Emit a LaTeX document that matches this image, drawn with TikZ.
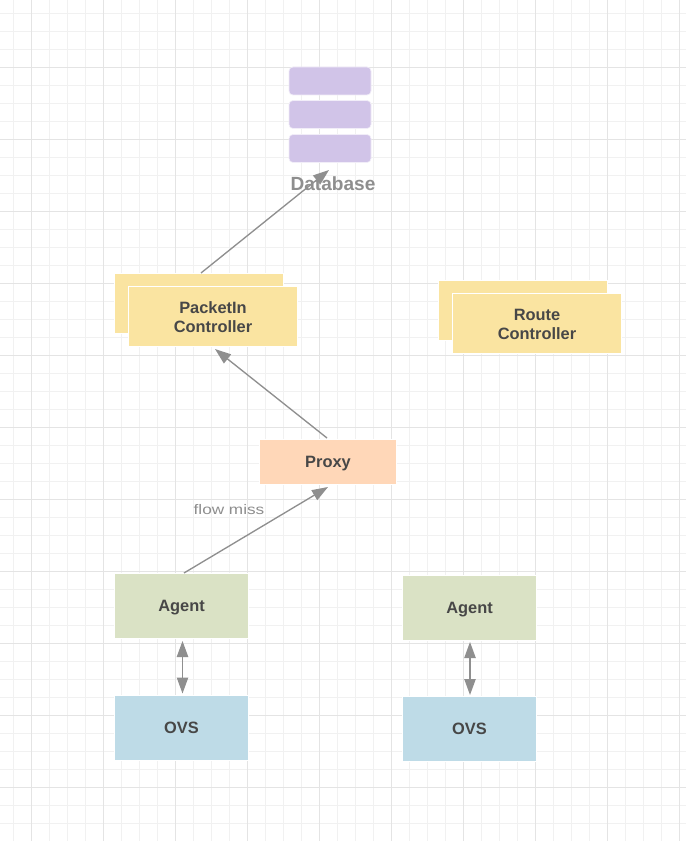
\documentclass[tikz,border=0pt]{standalone}
\usepackage{fontspec}
\setmainfont{Liberation Sans}
\usetikzlibrary{arrows.meta}
\definecolor{minorgrid}{HTML}{F1F1F1}
\definecolor{majorgrid}{HTML}{E4E4E4}
\definecolor{yellowbox}{HTML}{FAE4A1}
\definecolor{greenbox}{HTML}{DAE2C5}
\definecolor{bluebox}{HTML}{BEDBE7}
\definecolor{peachbox}{HTML}{FFD7B8}
\definecolor{purplebox}{HTML}{D1C4E8}
\definecolor{darktext}{HTML}{474747}
\definecolor{graytext}{HTML}{8E8E8E}
\definecolor{linkgray}{HTML}{8F8F8F}
\tikzset{
  box/.style={draw=white,line width=.9pt,inner sep=0pt,outer sep=0pt,
    font=\bfseries\fontsize{12.3}{14.5}\selectfont,text=darktext},
  agentbox/.style={box,fill=greenbox,minimum width=100.7pt,minimum height=48.7pt,text depth=0pt},
  ovsbox/.style={box,fill=bluebox,minimum width=100.7pt,minimum height=48.7pt},
  ctrlbox/.style={box,align=center,fill=yellowbox,minimum width=126.7pt,minimum height=45.2pt,text height=24pt},
  proxybox/.style={box,fill=peachbox,minimum width=102.7pt,minimum height=33.7pt,text depth=0pt},
  dbbar/.style={draw=white!70!purplebox,line width=.5pt,fill=purplebox,rounded corners=3pt,inner sep=0pt,outer sep=0pt,minimum width=61.5pt,minimum height=21pt},
  link/.style={draw=linkgray,line width=1pt,-{Triangle[length=12pt,width=8.5pt]}},
  duallink/.style={draw=linkgray,line width=1pt,{Triangle[length=12pt,width=8.5pt]}-{Triangle[length=12pt,width=8.5pt]}},
  graylabel/.style={text=graytext,inner sep=0pt},
}
\begin{document}
\begin{tikzpicture}[x=.75pt,y=-.75pt]
\useasboundingbox (0,0) rectangle (686,841);
\fill[white] (0,0) rectangle (686,841);
\foreach \v in {13.5,31.5,...,680}{\draw[minorgrid,line width=.7pt] (\v,0) -- (\v,841);}
\foreach \v in {13.5,31.5,...,830}{\draw[minorgrid,line width=.7pt] (0,\v) -- (686,\v);}
\foreach \v in {31.5,103.5,...,680}{\draw[majorgrid,line width=.7pt] (\v,0) -- (\v,841);}
\foreach \v in {67.5,139.5,...,830}{\draw[majorgrid,line width=.7pt] (0,\v) -- (686,\v);}

\node[dbbar] (dba) at (330,81) {};
\node[dbbar] (dbb) at (330,114.5) {};
\node[dbbar] (dbc) at (330,148.5) {};
\node[graylabel,font=\bfseries\fontsize{14.3}{16}\selectfont] (dbl) at (333,183.5) {Database};

\node[ctrlbox] (pkb) at (199,303.5) {};
\node[ctrlbox] (pkf) at (213,316.5) {PacketIn\\Controller};
\node[ctrlbox] (rtb) at (523,310.5) {};
\node[ctrlbox] (rtf) at (537,323.5) {Route\\Controller};

\node[proxybox] (proxy) at (328,462) {Proxy};

\node[agentbox] (agl) at (181.5,606) {Agent};
\node[ovsbox] (ovl) at (181.5,728) {OVS};
\node[agentbox] (agr) at (469.5,608) {Agent};
\node[ovsbox] (ovr) at (469.5,729) {OVS};

\node[graylabel,font=\fontsize{10.4}{12}\selectfont,xscale=1.24] (flow) at (229,510) {flow miss};

\coordinate (dbout) at (201,273);
\coordinate (dbin) at (329,170);
\coordinate (pkin) at (215,349);
\coordinate (pxout) at (327,438);
\coordinate (pxin) at (328,487);
\coordinate (agout) at (184,573);
\coordinate (aglt) at (182.5,641);
\coordinate (aglb) at (182.5,693.5);
\coordinate (agrt) at (470,642);
\coordinate (agrb) at (470,695);

\draw[link] (dbout) -- (dbin);
\draw[link] (pxout) -- (pkin);
\draw[link] (agout) -- (pxin);
\draw[duallink] (aglt) -- (aglb);
\draw[duallink] (agrt) -- (agrb);
\end{tikzpicture}
\end{document}
